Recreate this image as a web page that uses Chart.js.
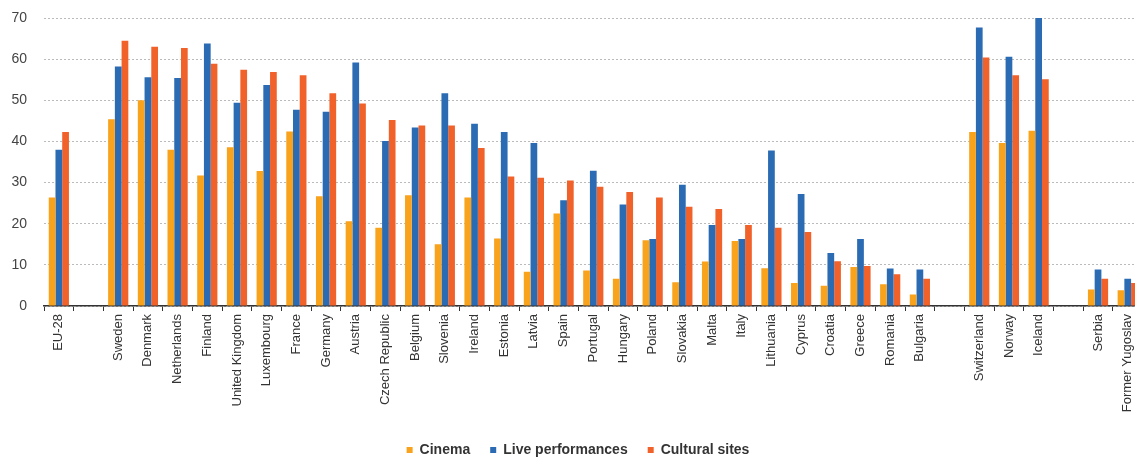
<!DOCTYPE html>
<html>
<head>
<meta charset="utf-8">
<script src="https://cdn.jsdelivr.net/npm/chart.js@4"></script>
<style>
  html, body { margin: 0; padding: 0; background: #fff; overflow: hidden; }
  #wrap { width: 1162px; height: 459px; position: relative; }
</style>
</head>
<body>
<div id="wrap"><canvas id="chart"></canvas></div>
<script>
// categories (empty strings are the gaps between groups)
const countries = [
    'EU-28', '',
    'Sweden', 'Denmark', 'Netherlands', 'Finland', 'United Kingdom', 'Luxembourg', 'France',
    'Germany', 'Austria', 'Czech Republic', 'Belgium', 'Slovenia', 'Ireland', 'Estonia',
    'Latvia', 'Spain', 'Portugal', 'Hungary', 'Poland', 'Slovakia', 'Malta', 'Italy',
    'Lithuania', 'Cyprus', 'Croatia', 'Greece', 'Romania', 'Bulgaria', '',
    'Switzerland', 'Norway', 'Iceland', '',
    'Serbia', ['Former Yugoslav', 'Republic of Macedonia']
];

// series values (%)
const cinema = [
    26.4, null,
    45.4, 50.0, 38.0, 31.7, 38.6, 32.8, 42.4, 26.7, 20.6, 19.0, 26.9, 15.0, 26.4, 16.4,
    8.3, 22.5, 8.6, 6.6, 16.0, 5.8, 10.8, 15.8, 9.2, 5.6, 4.9, 9.5, 5.3, 2.8, null,
    42.3, 39.6, 42.6, null,
    4.0, 3.8
];
const livePerformances = [
    38.0, null,
    58.2, 55.6, 55.4, 63.8, 49.4, 53.7, 47.7, 47.2, 59.2, 40.1, 43.4, 51.7, 44.3, 42.3,
    39.6, 25.7, 32.9, 24.7, 16.3, 29.5, 19.7, 16.3, 37.8, 27.2, 12.9, 16.3, 9.1, 8.9, null,
    67.7, 60.6, 70.0, null,
    8.9, 6.6
];
const culturalSites = [
    42.3, null,
    64.5, 63.0, 62.7, 58.9, 57.4, 56.9, 56.1, 51.7, 49.2, 45.2, 43.9, 43.9, 38.4, 31.5,
    31.2, 30.5, 29.0, 27.7, 26.4, 24.1, 23.6, 19.7, 19.0, 18.0, 10.9, 9.7, 7.7, 6.6, null,
    60.4, 56.1, 55.1, null,
    6.6, 5.6
];

// y-axis ticks
const yTicks = [0, 10, 20, 30, 40, 50, 60, 70];

const ctx = document.getElementById('chart').getContext('2d');

new Chart(ctx, {
    type: 'bar',
    data: {
        labels: countries,
        datasets: [
            { label: 'Cinema', data: cinema, backgroundColor: '#F9A21B' },
            { label: 'Live performances', data: livePerformances, backgroundColor: '#2A6BB3' },
            { label: 'Cultural sites', data: culturalSites, backgroundColor: '#F1612A' }
        ]
    },
    options: {
        responsive: true,
        maintainAspectRatio: false,
        animation: false,
        layout: { padding: { top: 18, right: 6, left: 0, bottom: 0 } },
        datasets: {
            bar: {
                barPercentage: 1.0,
                categoryPercentage: 0.68,
                borderWidth: 0
            }
        },
        plugins: {
            legend: {
                position: 'bottom',
                maxHeight: 36,
                labels: {
                    boxWidth: 6,
                    boxHeight: 6,
                    padding: 20,
                    color: '#333',
                    font: { family: 'Liberation Sans', size: 14, weight: 'bold' }
                }
            },
            tooltip: { enabled: false }
        },
        scales: {
            x: {
                grid: {
                    display: true,
                    drawOnChartArea: false,
                    drawTicks: true,
                    tickLength: 5,
                    color: '#333',
                    offset: true
                },
                border: { display: true, color: '#333', width: 1.5 },
                ticks: {
                    autoSkip: false,
                    maxRotation: 90,
                    minRotation: 90,
                    padding: 3,
                    color: '#333',
                    font: { family: 'Liberation Sans', size: 13 }
                },
                afterFit: function(scale) { scale.height = 117; }
            },
            y: {
                min: 0,
                max: 70,
                afterBuildTicks: function(scale) {
                    scale.ticks = yTicks.map(v => ({ value: v }));
                },
                afterFit: function(scale) { scale.width = 44; },
                grid: {
                    color: '#bbb',
                    lineWidth: 1,
                    drawTicks: true,
                    tickLength: 17,
                    tickColor: 'rgba(0,0,0,0)'
                },
                border: { display: false, dash: [2, 2] },
                ticks: {
                    padding: 0,
                    color: '#444',
                    font: { family: 'Liberation Sans', size: 14 }
                }
            }
        }
    }
});
</script>
</body>
</html>
